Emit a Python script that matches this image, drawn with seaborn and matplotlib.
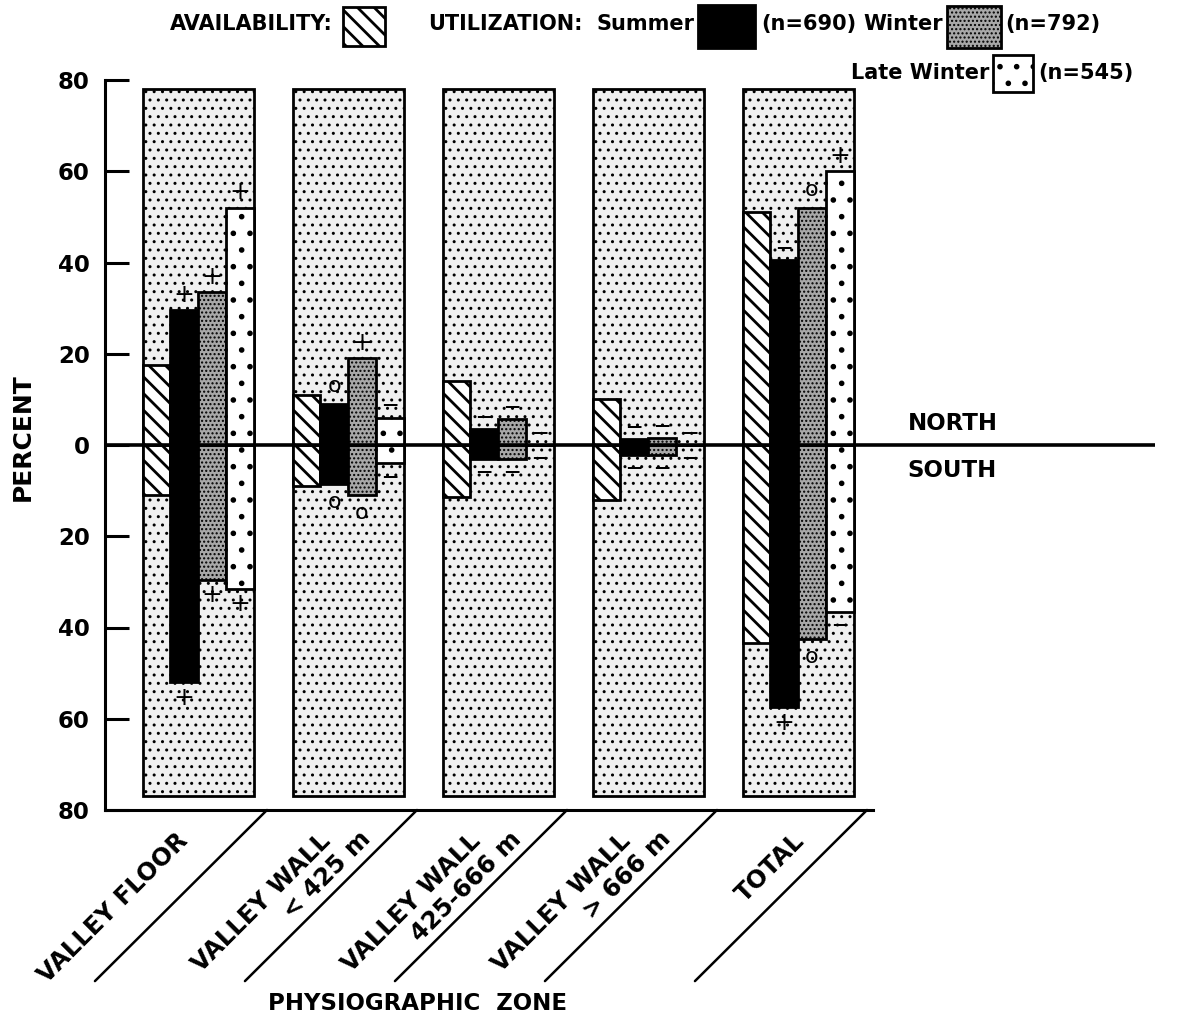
import matplotlib
matplotlib.use("Agg")
import matplotlib.pyplot as plt
import matplotlib.transforms as mtransforms
import seaborn as sns
import pandas as pd
from matplotlib.patches import Rectangle

# ---------------- data ----------------
zones = ["VALLEY FLOOR", "VALLEY WALL\n< 425 m", "VALLEY WALL\n425-666 m",
         "VALLEY WALL\n> 666 m", "TOTAL"]
series = ["Availability", "Summer", "Winter", "Late Winter"]

avail_north = [17.5, 11.0, 14.0, 10.0, 51.0]
avail_south = [11.0, 9.0, 11.5, 12.0, 43.5]
summer_north = [29.5, 9.0, 3.5, 1.3, 40.5]
summer_south = [52.0, 8.5, 3.0, 2.2, 57.5]
winter_north = [33.5, 19.0, 5.7, 1.5, 52.0]
winter_south = [29.5, 11.0, 3.0, 2.2, 42.5]
late_north = [52.0, 6.0, 0.0, 0.0, 60.0]
late_south = [31.5, 4.0, 0.0, 0.0, 36.5]

# significance symbols (north side / south side) for Summer, Winter, Late Winter
summer_sym_n = ["+", "o", "—", "—", "—"]
summer_sym_s = ["+", "o", "—", "—", "+"]
winter_sym_n = ["+", "+", "—", "—", "o"]
winter_sym_s = ["+", "o", "—", "—", "o"]
late_sym_n = ["+", "—", "—", "—", "+"]
late_sym_s = ["+", "—", "—", "—", "—"]

sample_sizes = [690, 792, 545]

# ---------------- build tables ----------------
north_vals = [avail_north, summer_north, winter_north, late_north]
south_vals = [avail_south, summer_south, winter_south, late_south]
rows = []
for s, nv, sv in zip(series, north_vals, south_vals):
    for z, n, so in zip(zones, nv, sv):
        rows.append({"zone": z, "series": s, "north": n, "south": -so})
df = pd.DataFrame(rows)
bg = pd.DataFrame({"zone": zones, "top": [78] * len(zones), "bot": [-77] * len(zones)})

# ---------------- figure ----------------
sns.set_theme(style="white")
plt.rcParams["font.family"] = ["DejaVu Sans"]
plt.rcParams["hatch.linewidth"] = 1.3
plt.rcParams["hatch.color"] = "black"
for k in ["text.color", "axes.labelcolor", "xtick.color", "ytick.color", "axes.edgecolor"]:
    plt.rcParams[k] = "black"

W, H = 1183, 1026
fig = plt.figure(figsize=(W / 100, H / 100), dpi=100)
fig.patch.set_facecolor("white")
ax = fig.add_axes([105 / W, 1 - 810 / H, (1155 - 105) / W, (810 - 80) / H])
ax.set_facecolor("white")


def set_hlw(p, w):
    if hasattr(p, "set_hatch_linewidth"):
        try:
            p.set_hatch_linewidth(w)
        except Exception:
            pass


# background panels
for col in ["top", "bot"]:
    sns.barplot(data=bg, x="zone", y=col, order=zones, width=0.74, color="white",
                saturation=1, edgecolor="black", linewidth=2.0, errorbar=None, ax=ax)
for cont in ax.containers[:2]:
    for p in cont:
        p.set_facecolor("#f0f0f0")
        p.set_hatch("..")
        set_hlw(p, 1.0)
        p.set_zorder(1)

styles = {"Availability": ("white", "\\\\", 2.0),
          "Summer": ("black", "", 1.0),
          "Winter": ("#a8a8a8", "....", 1.0),
          "Late Winter": ("white", ".", 1.6)}
pal = {s: styles[s][0] for s in series}

for col in ["north", "south"]:
    sns.barplot(data=df, x="zone", y=col, hue="series", hue_order=series, order=zones,
                width=0.74, dodge=True, palette=pal, saturation=1, edgecolor="black",
                linewidth=2.0, errorbar=None, legend=False, ax=ax)

north_conts = ax.containers[2:6]
south_conts = ax.containers[6:10]
for conts in (north_conts, south_conts):
    for s, cont in zip(series, conts):
        fc, hatch, hlw = styles[s]
        for p in cont:
            p.set_facecolor(fc)
            p.set_hatch(hatch)
            set_hlw(p, hlw)
            p.set_zorder(3)

# significance symbols (as text)
sym_n = [summer_sym_n, winter_sym_n, late_sym_n]
sym_s = [summer_sym_s, winter_sym_s, late_sym_s]
off = {"+": 3.4, "o": 3.9, "—": 2.8}
fsz = {"+": 18, "o": 16, "—": 11}
fwt = {"+": "normal", "o": "normal", "—": "bold"}
for k in range(3):
    for conts, syms, sign in ((north_conts, sym_n, 1), (south_conts, sym_s, -1)):
        for p, sy in zip(conts[k + 1], syms[k]):
            x = p.get_x() + p.get_width() / 2
            y = p.get_height() + sign * off[sy]
            ax.text(x, y, sy, ha="center", va="center", fontsize=fsz[sy],
                    fontweight=fwt[sy], zorder=6)

# axes styling
x0, x1 = -0.62, 6.38
ax.set_xlim(x0, x1)
ax.set_ylim(-80, 80)
ax.axhline(0, color="black", lw=2.6, zorder=5)
ticks = list(range(-80, 81, 20))
ax.set_yticks(ticks)
ax.set_yticklabels([str(abs(t)) for t in ticks], fontsize=16.5, fontweight="bold")
ax.tick_params(axis="y", direction="in", length=17, width=2.2, pad=11, left=True)
ax.set_xticks([])
ax.set_xlabel("")
ax.set_ylabel("")
for s in ["top", "right"]:
    ax.spines[s].set_visible(False)
ax.spines["left"].set_linewidth(2.2)
ax.spines["bottom"].set_linewidth(2.2)
ax.spines["bottom"].set_bounds(x0, 4.5)

ax.text(4.73, 4.8, "NORTH", ha="left", va="center", fontsize=16.5, fontweight="bold")
ax.text(4.73, -5.5, "SOUTH", ha="left", va="center", fontsize=16.5, fontweight="bold")

fig.text(23 / W, 1 - 437 / H, "PERCENT", rotation=90, ha="center", va="center",
         fontsize=18, fontweight="bold")

# diagonal separators and zone labels
label_dx = [-0.09, -0.14, -0.14, -0.14, 0.02]
line2_shift = mtransforms.offset_copy(ax.transData, fig=fig, x=40, y=2, units="dots")
for i, z in enumerate(zones):
    xs = i + 0.46
    ax.plot([xs, xs - 1.147], [-80, -117.5], color="black", lw=1.8, clip_on=False)
    parts = z.split("\n")
    ax.text(i + label_dx[i], -86.0, parts[0], rotation=45, rotation_mode="anchor",
            ha="right", va="center", fontsize=17.5, fontweight="bold", clip_on=False)
    if len(parts) > 1:
        ax.text(i + label_dx[i], -86.0, parts[1], rotation=45, rotation_mode="anchor",
                ha="right", va="center", fontsize=17.5, fontweight="bold",
                clip_on=False, transform=line2_shift)

fig.text(417 / W, 1 - 1003 / H, "PHYSIOGRAPHIC  ZONE", ha="center", va="center",
         fontsize=16.5, fontweight="bold")


# ---------------- legend ----------------
def fx(x):
    return x / W


def fy(y):
    return 1 - y / H


def box(xl, yt, xr, yb, fc, hatch, hlw=1.0):
    r = Rectangle((fx(xl), fy(yb)), (xr - xl) / W, (yb - yt) / H,
                  transform=fig.transFigure, facecolor=fc, edgecolor="black",
                  hatch=hatch, lw=2.0)
    set_hlw(r, hlw)
    fig.add_artist(r)


LF = 15
fig.text(fx(333), fy(24), "AVAILABILITY:", ha="right", va="center", fontsize=LF,
         fontweight="bold")
box(343, 7, 385, 46, "white", "\\\\", 2.0)
fig.text(fx(428), fy(24), "UTILIZATION:", ha="left", va="center", fontsize=LF,
         fontweight="bold")
fig.text(fx(694), fy(24), "Summer", ha="right", va="center", fontsize=LF, fontweight="bold")
box(698, 5, 755, 48, "black", "")
fig.text(fx(761), fy(24), f"(n={sample_sizes[0]})", ha="left", va="center", fontsize=LF,
         fontweight="bold")
fig.text(fx(943), fy(24), "Winter", ha="right", va="center", fontsize=LF, fontweight="bold")
box(947, 6, 1001, 48, "#a8a8a8", "....")
fig.text(fx(1005), fy(24), f"(n={sample_sizes[1]})", ha="left", va="center", fontsize=LF,
         fontweight="bold")
fig.text(fx(989), fy(73), "Late Winter", ha="right", va="center", fontsize=LF,
         fontweight="bold")
box(993, 55, 1033, 92, "white", ".", 1.6)
fig.text(fx(1038), fy(73), f"(n={sample_sizes[2]})", ha="left", va="center", fontsize=LF,
         fontweight="bold")

fig.savefig("out.png", dpi=100, facecolor="white")
